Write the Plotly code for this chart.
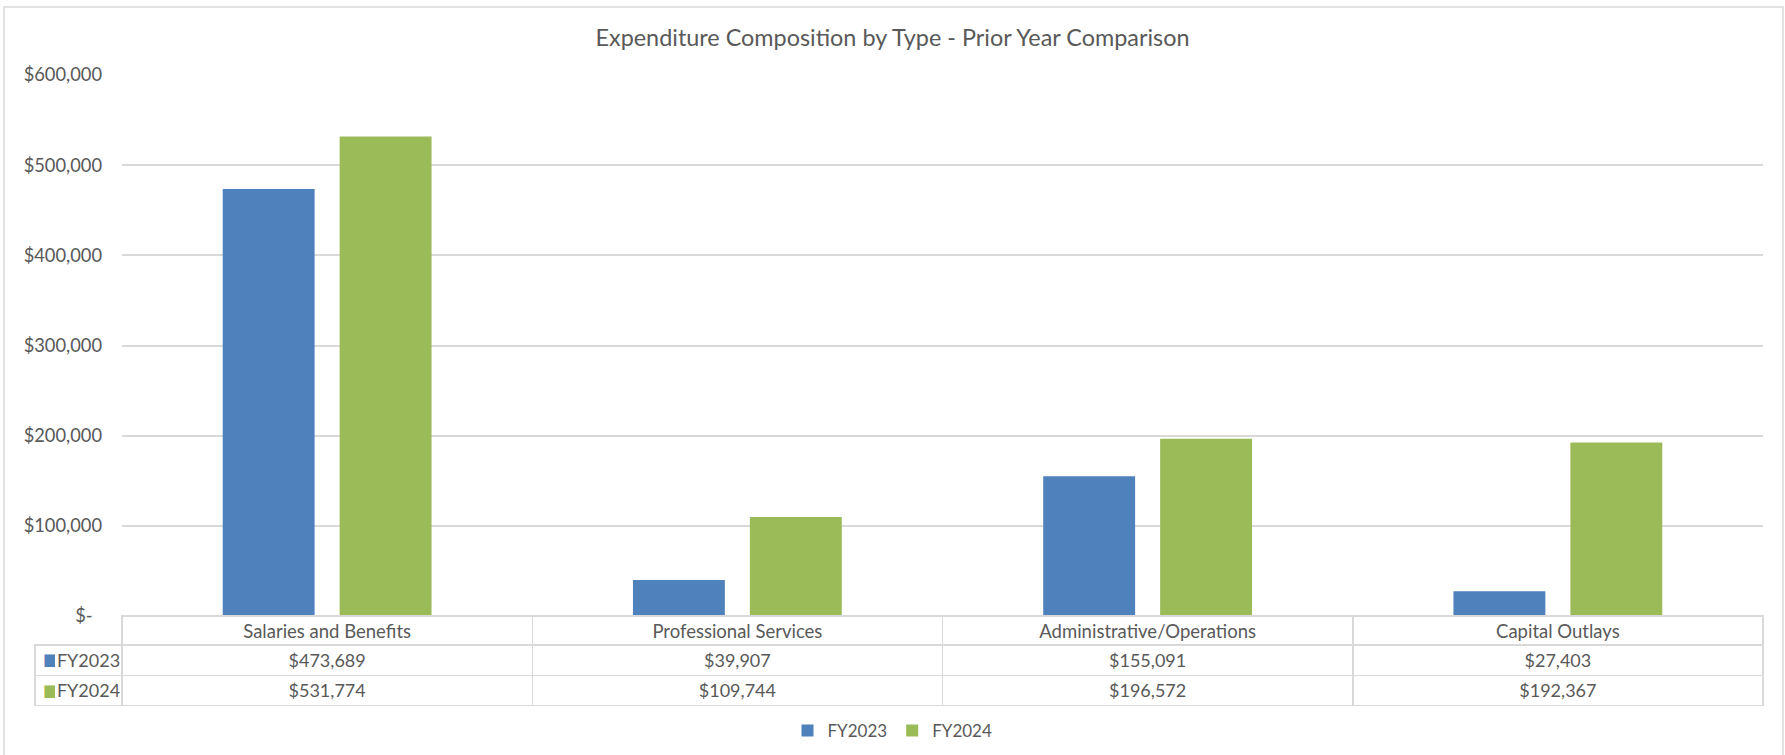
import plotly.graph_objects as go

categories = ["Salaries and Benefits", "Professional Services", "Administrative/Operations", "Capital Outlays"]
series_names = ["FY2023", "FY2024"]
fy2023 = [473689, 39907, 155091, 27403]
fy2024 = [531774, 109744, 196572, 192367]
y_tick_vals = [0, 100000, 200000, 300000, 400000, 500000, 600000]
y_tick_text = ["$-\u00a0\u00a0", "$100,000", "$200,000", "$300,000", "$400,000", "$500,000", "$600,000"]
title_text = "Expenditure Composition by Type - Prior Year Comparison"

colors = ["#4F81BD", "#9BBB59"]
text_color = "#595959"
grid_color = "#D9D9D9"
FONT = "Lato"

W, H = 1785, 755
ml, mr, mt, mb = 35, 22, 75, 49
pw = W - ml - mr
ph = H - mt - mb
plot_left = 122
plot_bottom = 616
x_dom0 = (plot_left - ml) / pw
y_dom0 = (H - mb - plot_bottom) / ph

fig = go.Figure()
for name, vals, c in zip(series_names, [fy2023, fy2024], colors):
    fig.add_trace(go.Bar(x=categories, y=vals, name=name, marker=dict(color=c, line=dict(width=0)),
                         xaxis="x", yaxis="y"))

def fmt(v):
    return "${:,}".format(v)

n = len(categories)
label_w = plot_left - ml
cat_w = (pw - label_w) / n
HEAD_H, ROW_H = 29, 30.5

# data table below the bars (grid + values)
cols_values = [[""] * len(series_names)] + [[fmt(a), fmt(b)] for a, b in zip(fy2023, fy2024)]
fig.add_trace(go.Table(
    domain=dict(x=[0, 1], y=[0, y_dom0]),
    columnwidth=[label_w] + [cat_w] * n,
    header=dict(values=[""] + categories, height=HEAD_H,
                line=dict(color=grid_color, width=[0] + [1.5] * n),
                fill=dict(color=["rgba(0,0,0,0)"] + ["white"] * n),
                font=dict(family=FONT, size=18.5, color=text_color), align="center"),
    cells=dict(values=cols_values, height=ROW_H,
               line=dict(color=grid_color, width=1.5),
               fill=dict(color="white"),
               font=dict(family=FONT, size=18, color=text_color),
               align=["left"] + ["center"] * n),
))

# series labels with their legend keys, overlaid on the table's first column
key_w = 20
fig.add_trace(go.Table(
    domain=dict(x=[0, label_w / pw], y=[0, y_dom0]),
    columnwidth=[key_w, label_w - key_w],
    header=dict(values=["", ""], height=HEAD_H, line=dict(width=0),
                fill=dict(color="rgba(0,0,0,0)")),
    cells=dict(values=[["\u25A0"] * len(series_names), series_names], height=ROW_H,
               line=dict(width=0), fill=dict(color="rgba(0,0,0,0)"),
               font=dict(family=["DejaVu Sans", FONT], size=[16.5, 18],
                         color=[colors, [text_color] * len(series_names)]),
               align=["left", "center"]),
))

fig.update_layout(
    width=W, height=H,
    margin=dict(l=ml, r=mr, t=mt, b=mb, pad=0, autoexpand=False),
    paper_bgcolor="white", plot_bgcolor="white",
    title=dict(text=title_text, x=0.5, xref="container", xanchor="center",
               y=1 - 38 / H, yref="container", yanchor="middle",
               font=dict(family=FONT, size=23.4, color=text_color)),
    barmode="group", bargap=0.43, bargroupgap=0.214,
    xaxis=dict(domain=[x_dom0, 1], showticklabels=False, showgrid=False, zeroline=False,
               showline=False, ticks="", automargin=False),
    yaxis=dict(domain=[y_dom0, 1], range=[0, 600000], tickvals=y_tick_vals, ticktext=y_tick_text,
               showgrid=True, gridcolor=grid_color, gridwidth=1.5, zeroline=False, showline=False,
               ticks="", ticklabelstandoff=19, automargin=False,
               tickfont=dict(family=FONT, size=18.3, color=text_color)),
    legend=dict(orientation="h", x=0.5, xref="container", xanchor="center",
                y=1 - 731 / H, yref="container", yanchor="middle",
                font=dict(family=FONT, size=17, color=text_color), itemwidth=30,
                traceorder="normal"),
    showlegend=True,
)
fig.add_shape(type="rect", xref="paper", yref="paper",
              x0=(4 - ml) / pw, x1=(1783 - ml) / pw, y0=(H - mb - 770) / ph, y1=(H - mb - 7) / ph,
              line=dict(color=grid_color, width=1.5), fillcolor="rgba(0,0,0,0)", layer="below")

fig.write_html("out.html", config={"displayModeBar": False},
               post_script="document.body.style.margin='0px';")
